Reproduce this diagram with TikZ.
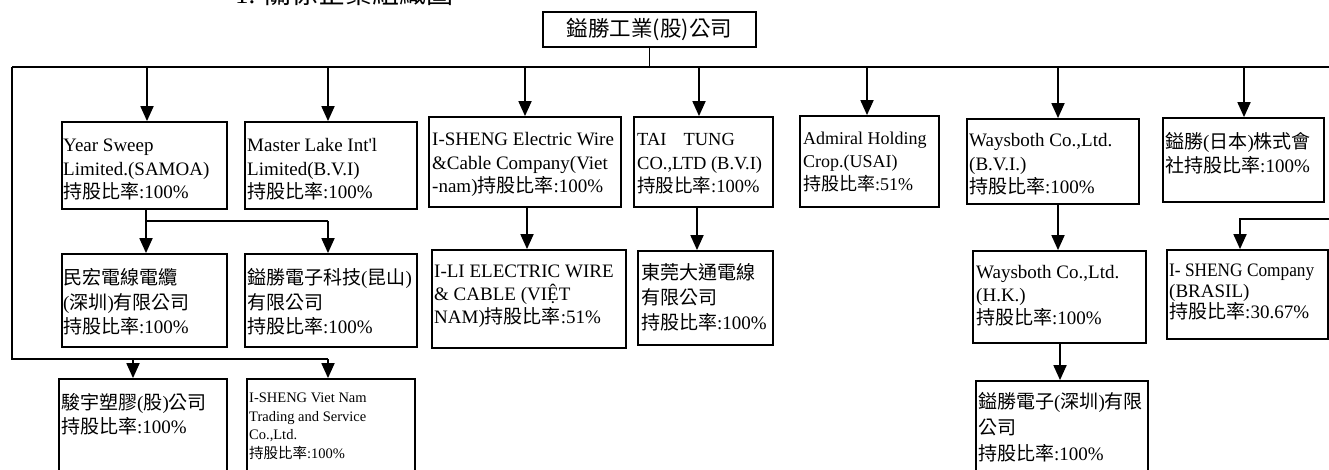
\documentclass[tikz,border=0pt]{standalone}
\usepackage{graphicx}
\usepackage{fontspec}
\setmainfont{Liberation Serif}[Ligatures=TeXOff]
\newfontfamily\cj{Noto Sans CJK TC}
\usetikzlibrary{arrows.meta}
\newcommand\zhc[1]{{\cj #1}}
\newcommand\firststrut{\rule{0pt}{18pt}}
\newcommand\smallstrut{\rule{0pt}{13pt}}
\begin{document}
\begin{tikzpicture}[x=1pt,y=-1pt,
  box/.style={draw, line width=1.8pt, inner sep=0pt},
  txt/.style={anchor=north west, align=left, inner sep=0pt, font=\fontsize{19}{23.5}\selectfont},
  arr/.style={line width=1.8pt, -{Triangle[length=15pt,width=13pt]}},
  ln/.style={line width=1.8pt}]
\useasboundingbox[fill=white] (0,0) rectangle (1329,469);

% title (cut by the page edge as in the reference)
\node[anchor=base west, inner sep=0pt, font=\fontsize{27}{27}\selectfont] (title) at (235,3.5) {1. \zhc{關係企業組織圖}};

% top company
\node[box, minimum width=213pt, minimum height=35pt, font=\cj\fontsize{21.5}{21.5}\selectfont] (top) at (649.5,29.5) {鎰勝工業(股)公司};

% first row boxes
\node[box, minimum width=165pt, minimum height=87pt] (A) at (144.5,165.5) {};
\node[box, minimum width=172pt, minimum height=87pt] (B) at (331,165.5) {};
\node[box, minimum width=192pt, minimum height=90pt] (C) at (525,162) {};
\node[box, minimum width=139pt, minimum height=90pt] (D) at (703.5,162) {};
\node[box, minimum width=139pt, minimum height=91pt] (E) at (869.5,161.5) {};
\node[box, minimum width=172pt, minimum height=85pt] (F) at (1053,161.5) {};
\node[box, minimum width=161pt, minimum height=84pt] (G) at (1243.5,160) {};

% second row boxes
\node[box, minimum width=165pt, minimum height=93pt] (A1) at (144.5,300.5) {};
\node[box, minimum width=172pt, minimum height=93pt] (A2) at (331,300.5) {};
\node[box, minimum width=194pt, minimum height=98pt] (C1) at (529,299) {};
\node[box, minimum width=135pt, minimum height=94pt] (D1) at (705.5,298) {};
\node[box, minimum width=173pt, minimum height=92pt] (F1) at (1059.5,297) {};
\node[box, minimum width=161pt, minimum height=89pt] (G1) at (1247.5,294.5) {};

% third row boxes (run past the bottom edge)
\node[box, minimum width=168pt, minimum height=111pt] (L1) at (143,434.5) {};
\node[box, minimum width=168pt, minimum height=111pt] (L2) at (331,434.5) {};
\node[box, minimum width=172pt, minimum height=109pt] (F2) at (1062,435.5) {};

% texts
\node[txt] (At) at (63,133.5) {\firststrut Year Sweep\\Limited.(SAMOA)\\\zhc{持股比率}:100\%};
\node[txt] (Bt) at (247,133.5) {\firststrut Master Lake Int'l\\Limited(B.V.I)\\\zhc{持股比率}:100\%};
\node[txt] (Ct) at (432,127.5) {\firststrut I-SHENG Electric Wire\\\&Cable Company(Viet\\-nam)\zhc{持股比率}:100\%};
\node[txt, font=\fontsize{18.5}{23.5}\selectfont] (Dt) at (637,127.5) {\firststrut TAI\hspace{17pt}TUNG\\CO.,LTD (B.V.I)\\\zhc{持股比率}:100\%};
\node[txt, font=\fontsize{18}{23}\selectfont] (Et) at (803,126.5) {\firststrut Admiral Holding\\Crop.(USAI)\\\zhc{持股比率}:51\%};
\node[txt] (Ft) at (969,128.5) {\firststrut Waysboth Co.,Ltd.\\(B.V.I.)\\\zhc{持股比率}:100\%};
\node[txt] (Gt) at (1165,130.5) {\firststrut \zhc{鎰勝}(\zhc{日本})\zhc{株式會}\\\zhc{社持股比率}:100\%};
\node[txt, font=\fontsize{19}{24.5}\selectfont] (A1t) at (63,266.5) {\firststrut \zhc{民宏電線電纜}\\(\zhc{深圳})\zhc{有限公司}\\\zhc{持股比率}:100\%};
\node[txt, font=\fontsize{19}{24.5}\selectfont] (A2t) at (247,266.5) {\firststrut \zhc{鎰勝電子科技}(\zhc{昆山})\\\zhc{有限公司}\\\zhc{持股比率}:100\%};
\node[txt, font=\fontsize{19}{23}\selectfont] (C1t) at (434,259.5) {\firststrut I-LI ELECTRIC WIRE\\\& CABLE (VIỆT\\NAM)\zhc{持股比率}:51\%};
\node[txt, font=\fontsize{19}{25}\selectfont] (D1t) at (641,261.5) {\firststrut \zhc{東莞大通電線}\\\zhc{有限公司}\\\zhc{持股比率}:100\%};
\node[txt, font=\fontsize{19}{23}\selectfont] (F1t) at (976,260.5) {\firststrut Waysboth Co.,Ltd.\\(H.K.)\\\zhc{持股比率}:100\%};
\node[txt, font=\fontsize{19}{21}\selectfont] (G1t) at (1169,258.5) {\firststrut \scalebox{0.91}[1]{I- SHENG Company}\\(BRASIL)\\\zhc{持股比率}:30.67\%};
\node[txt, font=\fontsize{19}{26}\selectfont] (F2t) at (978,390.5) {\firststrut \zhc{鎰勝電子}(\zhc{深圳})\zhc{有限}\\\zhc{公司}\\\zhc{持股比率}:100\%};
\node[txt, font=\fontsize{19}{24}\selectfont] (L1t) at (61,391.5) {\firststrut \zhc{駿宇塑膠}(\zhc{股})\zhc{公司}\\\zhc{持股比率}:100\%};
\node[txt, font=\fontsize{14.5}{18.5}\selectfont] (L2t) at (249,389.5) {\smallstrut I-SHENG Viet Nam\\Trading and Service\\Co.,Ltd.\\\zhc{持股比率}:100\%};

% connectors
\coordinate (busL) at (12,67);
\coordinate (busR) at (1329,67);
\coordinate (lowbus) at (12,359);
\coordinate (gin) at (1329,219);

\draw[ln] (top.south) -- (top.south |- busL);
\draw[ln] (busL) -- (busR);
\foreach \n/\dx in {A/2.5,B/-3,C/0,D/-4.5,E/-2.5,F/5,G/0.5}
  \draw[arr] ([xshift=\dx pt]\n.north |- busL) -- ([xshift=\dx pt]\n.north);

\draw[ln] (busL) -- (lowbus) -- ([xshift=-3pt]L2.north |- lowbus);
\draw[arr] ([xshift=-10pt]L1.north |- lowbus) -- ([xshift=-10pt]L1.north);
\draw[arr] ([xshift=-3pt]L2.north |- lowbus) -- ([xshift=-3pt]L2.north);

\draw[arr] ([xshift=1.5pt]A.south) -- ([xshift=1.5pt]A1.north);
\coordinate (abr) at ([xshift=1.5pt,yshift=-11pt]A.south);
\draw[ln] (abr) -- ([xshift=-3pt]A2.north |- abr);
\draw[arr] ([xshift=-3pt]A2.north |- abr) -- ([xshift=-3pt]A2.north);

\draw[arr] ([xshift=2pt]C.south) -- ([xshift=-2pt]C1.north);
\draw[arr] ([xshift=-6.5pt]D.south) -- ([xshift=-8.5pt]D1.north);
\draw[arr] ([xshift=5pt]F.south) -- ([xshift=-1.5pt]F1.north);
\draw[arr] ([xshift=0.5pt]F1.south) -- ([xshift=-2pt]F2.north);
\draw[arr] (gin) -| ([xshift=-7.5pt]G1.north);
\end{tikzpicture}
\end{document}
